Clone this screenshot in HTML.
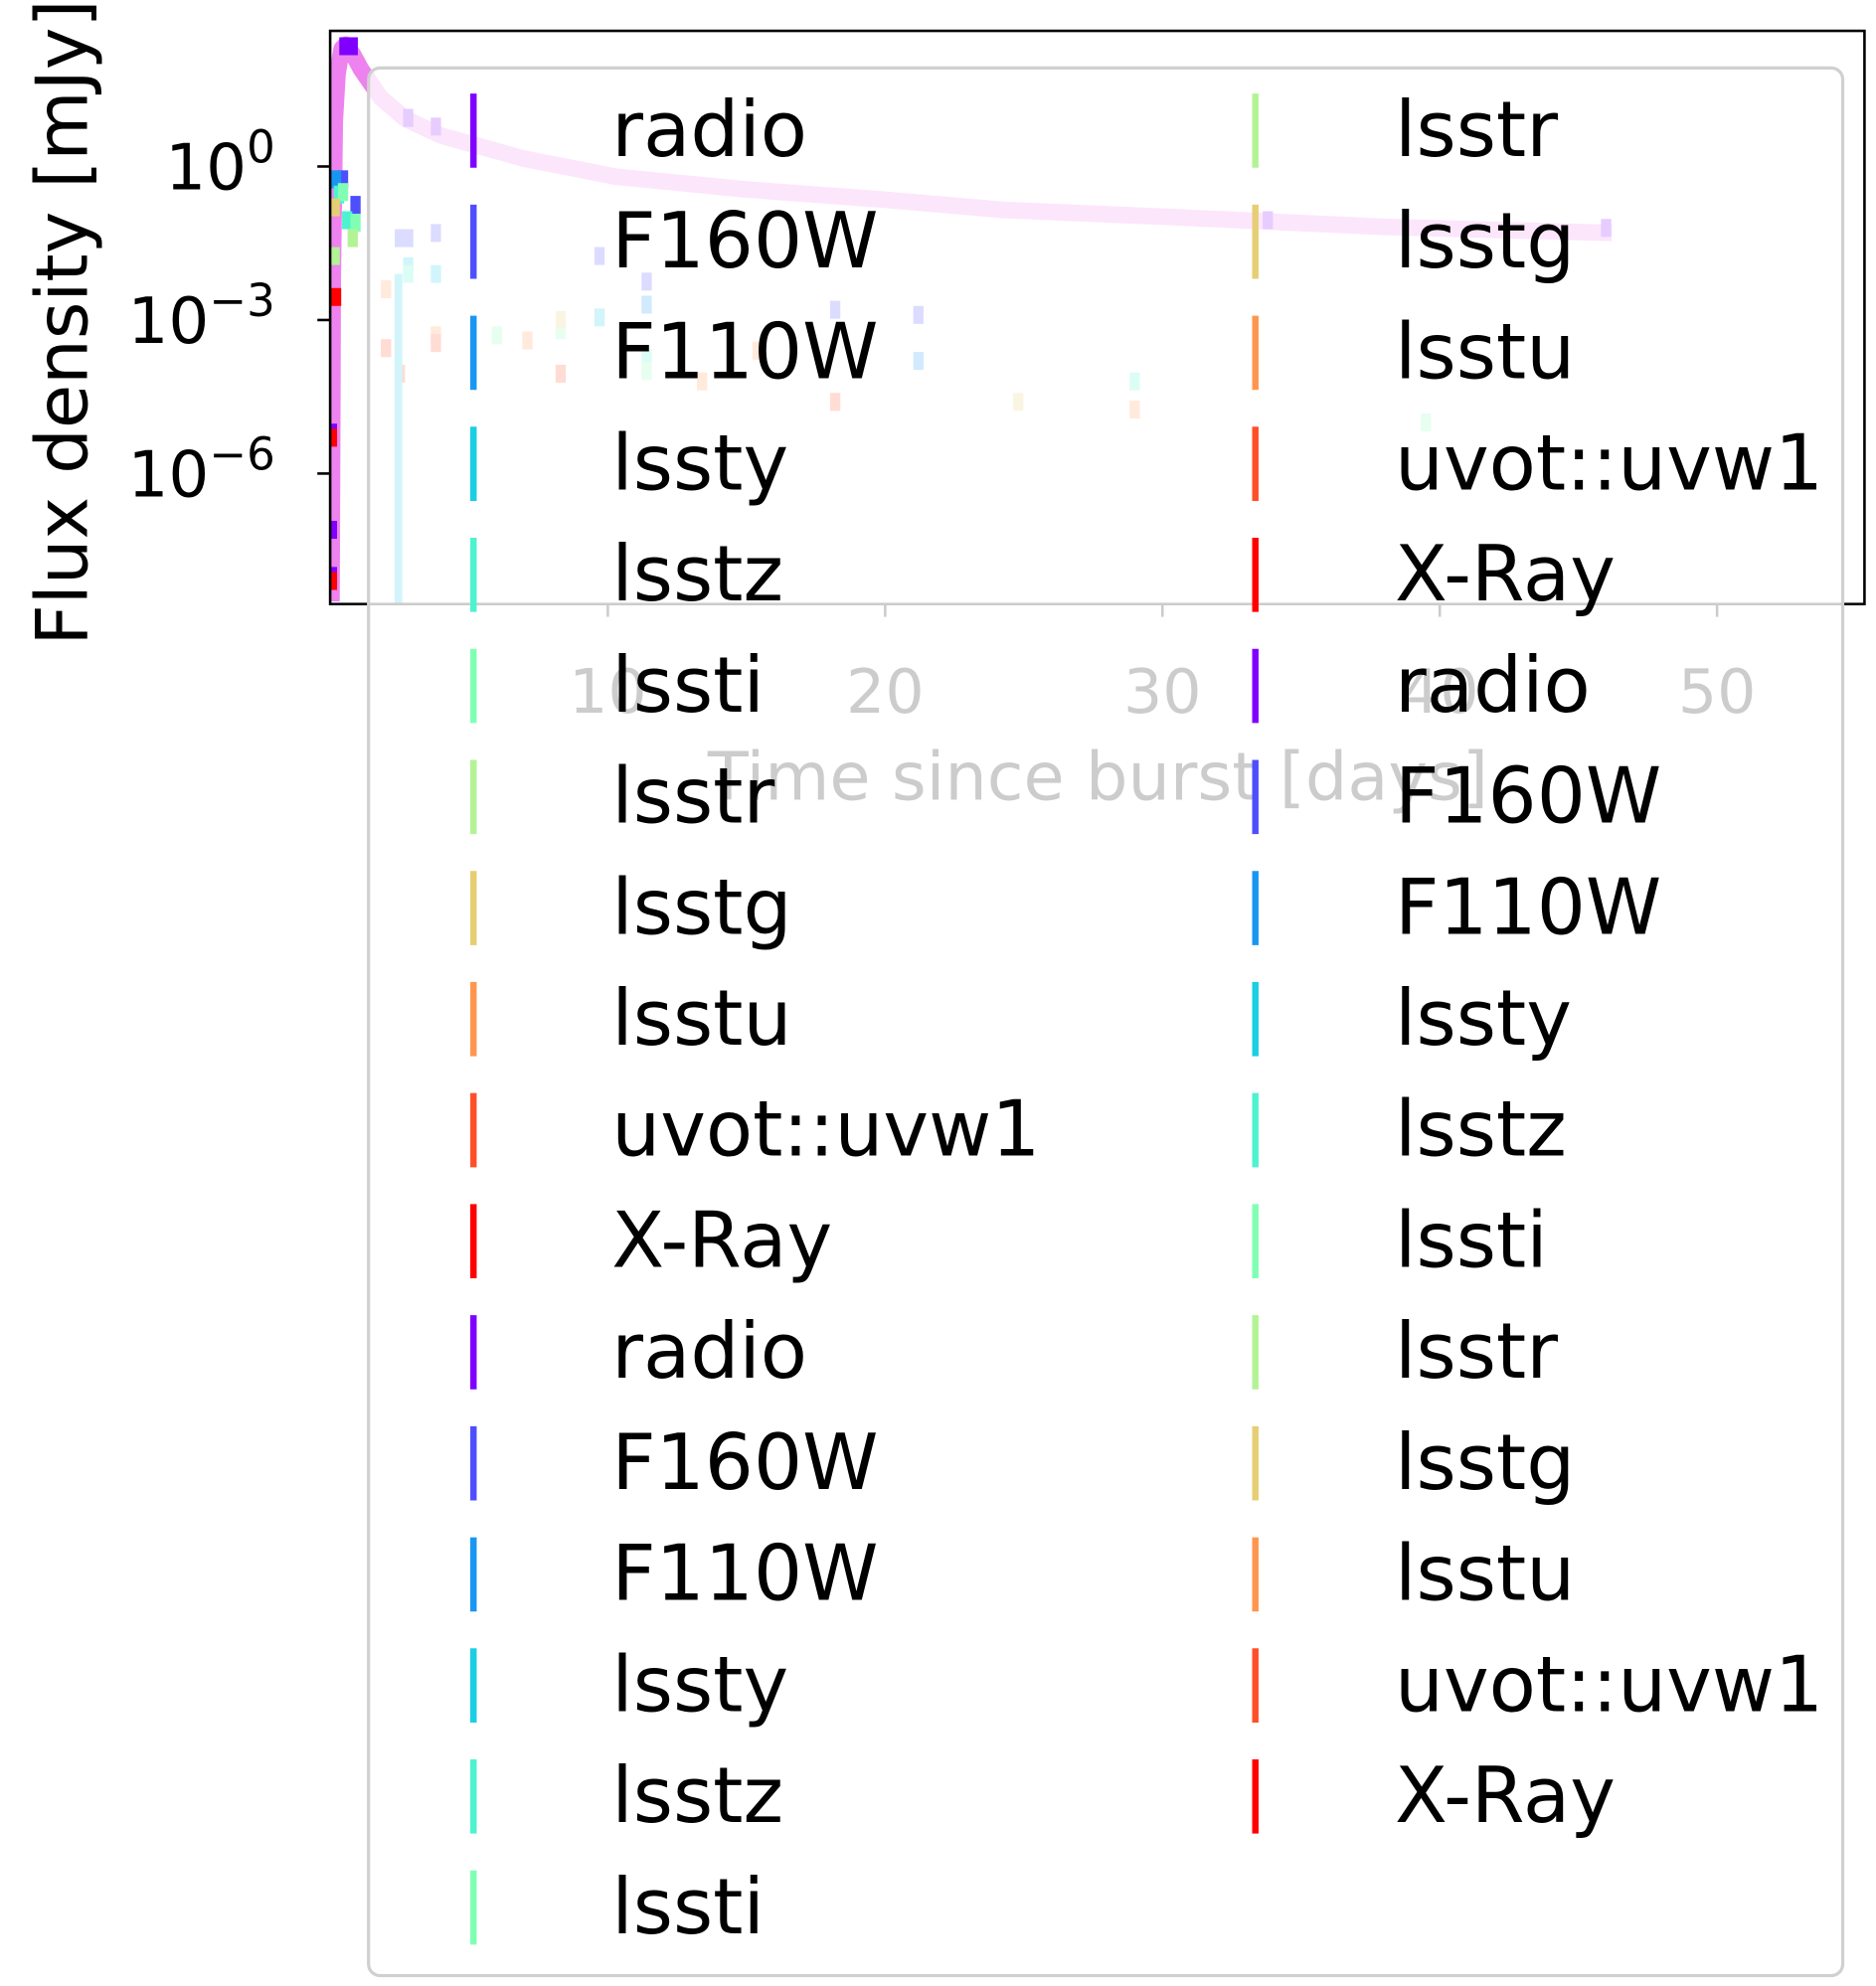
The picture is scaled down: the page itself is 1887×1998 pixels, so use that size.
<!DOCTYPE html>
<html><head><meta charset="utf-8"><style>html,body{margin:0;padding:0;background:#fff}svg{display:block}text{font-family:"DejaVu Sans","Liberation Sans",sans-serif}</style></head>
<body>
<svg id="chart" width="1887" height="1998" viewBox="0 0 1466 1552" xmlns="http://www.w3.org/2000/svg">
<g id="plot"></g>
<g id="axes"></g>
<g id="legend"></g>
</svg>
<script>
const seriesNames = ["radio","F160W","F110W","lssty","lsstz","lssti","lsstr","lsstg","lsstu","uvot::uvw1","X-Ray"];
const seriesColors = ["#8000ff","#4d4ffc","#1996f2","#1acee3","#4df3ce","#80ffb4","#b3f396","#e6ce74","#ff964f","#ff4f28","#ff0000"];
const modelTimes = [0.03,0.06,0.08,0.15,0.25,0.4,0.55,0.8,1.1,1.8,2.7,4,5,7,10.3,15,20,24.3,30,38,46.2];
const modelLogFlux = [-8.5,-5,-2.2,0.9,1.8,2.3,2.38,2.2,1.9,1.35,0.93,0.6,0.45,0.15,-0.2,-0.45,-0.65,-0.85,-0.98,-1.18,-1.3];
const pointSeries = [0,0,0,0,0,0,0,0,0, 1,1,1,1,1,1,1,1,1, 2,2,2, 3,3,3, 4,4,4,4,4, 5,5,5,5,5,5, 6,6, 7,7,7, 8,8,8,8,8,8, 9,9,9,9,9, 10,10,10];
const pointTimes = [0.5,0.8,2.8,3.8,33.8,46,0.05,0.05,0.05, 0.45,0.9,2.5,2.8,3.8,9.7,11.4,18.2,21.2, 0.2,11.4,21.2, 2.8,3.8,9.7, 0.3,0.6,2.8,11.4,29, 0.45,0.9,6,8.3,11.4,39.5, 0.8,0.15, 0.15,8.3,24.8, 2,3.8,7.1,13.4,15.4,29, 2,2.5,3.8,8.3,18.2, 0.2,0.05,0.05];
const pointLogFlux = [2.35,2.35,0.95,0.78,-1.05,-1.2,-5.2,-7.1,-8.0, -0.25,-0.75,-1.4,-1.4,-1.3,-1.75,-2.25,-2.8,-2.9, -0.25,-2.7,-3.8, -1.95,-2.1,-2.95, -0.55,-1.05,-2.1,-3.75,-4.2, -0.5,-1.1,-3.3,-3.2,-4.0,-5.0, -1.4,-1.75, -0.8,-3.0,-4.6, -2.4,-3.3,-3.4,-4.2,-3.6,-4.75, -3.55,-4.05,-3.45,-4.05,-4.6, -2.55,-8.1,-5.3];
const xTicks = [10,20,30,40,50];
const yTicks = [0,-3,-6];

const NS="http://www.w3.org/2000/svg";
const L=258,R=1457,T=24,B=472;
const xs=t=>258.3+t*21.67;
const ys=lf=>130-lf*40;
function mk(tag,parent,attrs){const e=document.createElementNS(NS,tag);for(const k in attrs)e.setAttribute(k,attrs[k]);parent.appendChild(e);return e;}
const plot=document.getElementById('plot'),axes=document.getElementById('axes'),leg=document.getElementById('legend');
const defs=mk('defs',plot,{});const cp=mk('clipPath',defs,{id:'clip'});mk('rect',cp,{x:L,y:T,width:R-L,height:B-T});
const g=mk('g',plot,{'clip-path':'url(#clip)'});
let d='';modelTimes.forEach((t,i)=>{d+=(i?'L':'M')+xs(t).toFixed(1)+' '+ys(modelLogFlux[i]).toFixed(1);});
const line=mk('path',g,{d:d,fill:'none',stroke:'#ee82ee',"stroke-width":13,"stroke-linejoin":'round'});


pointTimes.forEach((t,i)=>{
 const r=mk('rect',g,{x:xs(t)-4,y:ys(pointLogFlux[i])-7,width:8,height:14,fill:seriesColors[pointSeries[i]]});
 
 
});
const eb=mk('rect',g,{x:xs(2.45)-3,y:ys(-2.1),width:6,height:B-ys(-2.1),fill:seriesColors[3]});


// axes
mk('rect',axes,{x:L,y:T,width:R-L,height:B-T,fill:'none',stroke:'#000','stroke-width':2});
xTicks.forEach(v=>{const x=xs(v);
 const tk=mk('line',axes,{x1:x,x2:x,y1:B,y2:B+10,stroke:'#000','stroke-width':2});
 
 
 const tx=mk('text',axes,{x:x,y:557,'text-anchor':'middle','font-size':48});tx.textContent=v;
 
 
});
yTicks.forEach(v=>{const y=ys(v);
 const tk=mk('line',axes,{x1:L-10,x2:L,y1:y,y2:y,stroke:'#000','stroke-width':2});
 
 
 const tx=mk('text',axes,{x:215,y:y+18,'text-anchor':'end','font-size':50});
 
 
 const a=mk('tspan',tx,{});a.textContent='10';
 const b=mk('tspan',tx,{dy:-21,'font-size':35});b.textContent=v===0?'0':'\u2212'+(-v);
});
const xl=mk('text',axes,{x:858,y:625,'text-anchor':'middle','font-size':52});xl.textContent='Time since burst [days]';


const yl=mk('text',axes,{x:0,y:0,'text-anchor':'middle','font-size':56,transform:'translate(68,252) rotate(-90)'});yl.textContent='Flux density [mJy]';


// legend
const box=mk('rect',leg,{x:288,y:53,width:1152,height:1491,rx:9,fill:'#fff','fill-opacity':0.8,stroke:'#d0d0d0','stroke-width':2.5});


for(let i=0;i<33;i++){
 const col=i<17?0:1,row=col?i-17:i;const s=i%11;
 const cy=102+row*86.8;const hx=col?981:370,tx=col?1090:478;
 const h=mk('line',leg,{x1:hx,x2:hx,y1:cy-29,y2:cy+29,stroke:seriesColors[s],'stroke-width':5});
 
 
 const t=mk('text',leg,{x:tx,y:cy+20,'font-size':60});t.textContent=seriesNames[s];
 
 
}
</script>
</body></html>
